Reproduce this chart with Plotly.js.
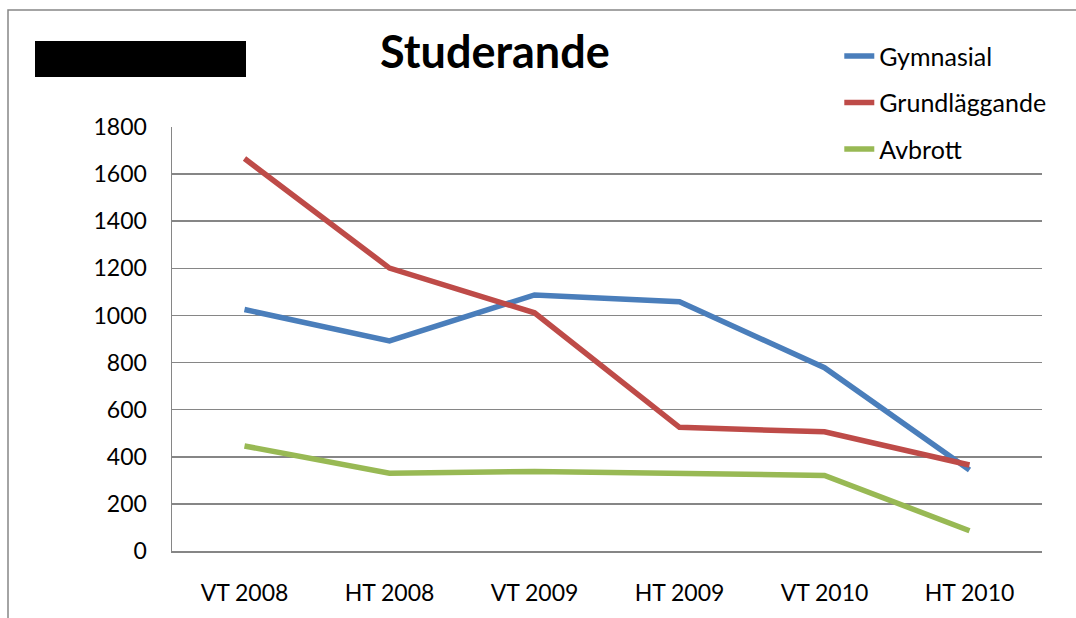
<!DOCTYPE html>
<html>
<head>
<meta charset="utf-8">
<script src="https://cdn.plot.ly/plotly-3.0.1.min.js"></script>
<style>
  body { margin: 0; background: #fff; }
  #myPlot { width: 1076px; height: 618px; }
</style>
</head>
<body>
<div id="myPlot"></div>
<script>
// terminer (categories)
var terms = ["VT 2008", "HT 2008", "VT 2009", "HT 2009", "VT 2010", "HT 2010"];

// values
var gymnasial = [1025, 892, 1087, 1058, 778, 344];
var grundlaggande = [1666, 1201, 1011, 525, 506, 365];
var avbrott = [446, 330, 338, 330, 321, 86];

var yTicks = [0, 200, 400, 600, 800, 1000, 1200, 1400, 1600, 1800];

var fontName = "Lato, 'Open Sans', sans-serif";

var data = [
  {x: terms, y: gymnasial, name: "Gymnasial", mode: "lines", legendgroup: "a",
   line: {color: "#4A7EBB", width: 5.5}},
  {x: terms, y: grundlaggande, name: "Grundläggande", mode: "lines", legendgroup: "b",
   line: {color: "#BE4B48", width: 5.5}},
  {x: terms, y: avbrott, name: "Avbrott", mode: "lines", legendgroup: "c",
   line: {color: "#98B954", width: 5.5}}
];

var layout = {
  width: 1076,
  height: 618,
  margin: {l: 172, r: 33.5, t: 126.5, b: 67},
  paper_bgcolor: "#fff",
  plot_bgcolor: "#fff",
  font: {family: fontName, size: 23, color: "#000"},
  title: {
    text: "<b>Studerande</b>",
    font: {family: fontName, size: 45, color: "#000"},
    x: 0.46, xref: "container", xanchor: "center",
    y: 0.916, yref: "container", yanchor: "middle"
  },
  showlegend: true,
  legend: {
    x: 0.767, xanchor: "left", y: 1.221, yanchor: "top",
    font: {family: fontName, size: 25, color: "#000"},
    tracegroupgap: 11, bgcolor: "rgba(0,0,0,0)"
  },
  xaxis: {
    type: "category",
    range: [-0.5, 5.5],
    showgrid: false,
    showline: true, linecolor: "#868686", linewidth: 1.5,
    ticks: "outside", ticklen: 21, tickcolor: "rgba(0,0,0,0)",
    fixedrange: true
  },
  yaxis: {
    range: [0, 1800],
    tickvals: yTicks,
    showgrid: true, gridcolor: "#868686", gridwidth: 1.5,
    zeroline: false,
    showline: true, linecolor: "#868686", linewidth: 1.5,
    ticks: "outside", ticklen: 19, tickcolor: "rgba(0,0,0,0)",
    fixedrange: true
  },
  shapes: [
    // outer chart border
    {type: "rect", xref: "paper", yref: "paper", xsizemode: "pixel", ysizemode: "pixel",
     xanchor: 0, yanchor: 0, x0: -164, x1: 920, y0: -80, y1: 541,
     line: {color: "#868686", width: 1.5}, fillcolor: "rgba(0,0,0,0)"},
    // redacted box
    {type: "rect", xref: "paper", yref: "paper", xsizemode: "pixel", ysizemode: "pixel",
     xanchor: 0, yanchor: 0, x0: -137, x1: 74, y0: 474, y1: 510,
     line: {width: 0}, fillcolor: "#000"}
  ]
};

Plotly.newPlot("myPlot", data, layout, {displayModeBar: false, staticPlot: true});
</script>
</body>
</html>
